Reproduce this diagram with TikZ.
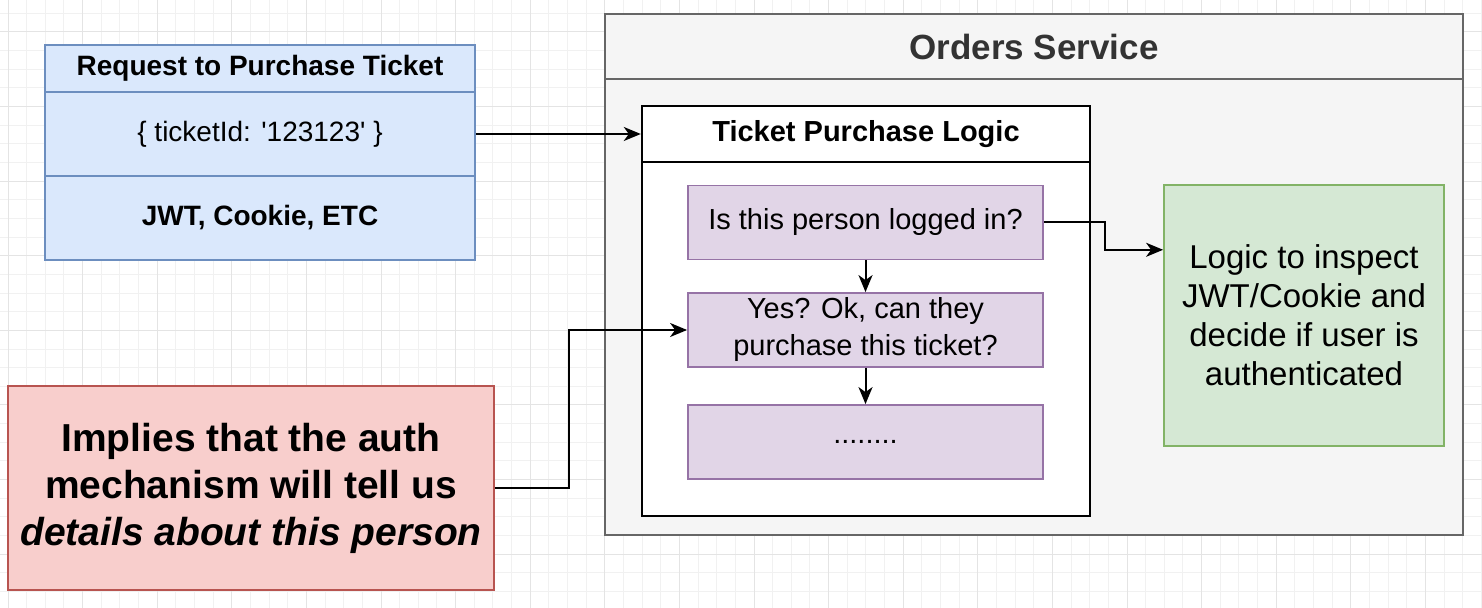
\documentclass[tikz,border=0pt]{standalone}
\usepackage{fontspec}
\setmainfont{Liberation Sans}
\usetikzlibrary{arrows.meta,calc}
\definecolor{reqfill}{HTML}{DAE8FC}
\definecolor{reqline}{HTML}{6C8EBF}
\definecolor{svcfill}{HTML}{F5F5F5}
\definecolor{svcline}{HTML}{666666}
\definecolor{svctext}{HTML}{333333}
\definecolor{stepfill}{HTML}{E1D5E7}
\definecolor{stepline}{HTML}{9673A6}
\definecolor{authfill}{HTML}{D5E8D4}
\definecolor{authline}{HTML}{82B366}
\definecolor{notefill}{HTML}{F8CECC}
\definecolor{noteline}{HTML}{B85450}
\definecolor{gridmajor}{HTML}{E4E4E4}
\definecolor{gridminor}{HTML}{F1F1F1}
\newcommand{\fsize}[2]{\fontsize{#1}{#2}\selectfont}
\tikzset{
    box/.style={rectangle, draw, inner sep=0pt, align=center},
    flow/.style={draw, line width=1pt, -{Stealth[length=8.5pt,width=7pt,inset=2.5pt]}},
}
\begin{document}
\begin{tikzpicture}[x=0.5pt, y=-0.5pt]
    \useasboundingbox (0,0) rectangle (1482,608);
    \fill[white] (0,0) rectangle (1482,608);
    \begin{scope}[line width=0.5pt]
        \foreach \i in {0,...,79} {\draw[gridminor] (8+18.65*\i,0) -- (8+18.65*\i,608);}
        \foreach \i in {0,...,31} {\draw[gridminor] (0,13.35+18.65*\i) -- (1482,13.35+18.65*\i);}
        \foreach \i in {0,...,19} {\draw[gridmajor] (8+74.6*\i,0) -- (8+74.6*\i,608);}
        \foreach \i in {0,...,7} {\draw[gridmajor] (0,32+74.6*\i) -- (1482,32+74.6*\i);}
    \end{scope}
    \begin{scope}[every node/.style={box, draw=reqline, fill=reqfill, line width=0.9pt, minimum width=215pt, font=\fsize{14}{17}}]
        \node (reqhead) [minimum height=23.5pt, font=\bfseries\fsize{14}{17}] at (260,68.5) {Request to Purchase Ticket};
        \node (reqbody) [minimum height=42pt] at (260,134) {\{ ticketId: \textquotesingle 123123\textquotesingle\ \}};
        \node (reqmeta) [minimum height=42pt, font=\bfseries\fsize{14}{17}] at (260,218) {JWT, Cookie, ETC};
    \end{scope}
    \begin{scope}[every node/.style={box, draw=svcline, fill=svcfill, line width=1.2pt, minimum width=429pt}]
        \node (svcbody) [minimum height=228.5pt] at (1034,306.5) {};
        \node (svchead) [minimum height=32.5pt, text=svctext, font=\bfseries\fsize{17.5}{21}] at (1034,46.5) {Orders Service};
    \end{scope}
    \begin{scope}[every node/.style={box, draw=black, fill=white, line width=1.2pt, minimum width=224pt}]
        \node (logicbody) [minimum height=177pt] at (866,339) {};
        \node (logichead) [minimum height=28pt, font=\bfseries\fsize{14.5}{17}] at (866,134) {Ticket Purchase Logic};
    \end{scope}
    \begin{scope}[every node/.style={box, draw=stepline, fill=stepfill, line width=0.9pt, minimum width=177.5pt, minimum height=37pt, font=\fsize{14.5}{18.5}}]
        \node (q1) at (865.5,222.5) {Is this person logged in?};
        \node (q2) at (865.5,330) {Yes? Ok, can they\\purchase this ticket?};
        \node (q3) at (865.5,442) {........};
    \end{scope}
    \node (auth) [box, draw=authline, fill=authfill, line width=0.9pt, minimum width=140pt, minimum height=130.5pt, font=\fsize{16.5}{19.5}] at (1304,315.5) {Logic to inspect\\JWT/Cookie and\\decide if user is\\authenticated};
    \node (note) [box, draw=noteline, fill=notefill, line width=0.9pt, minimum width=243pt, minimum height=102pt, font=\bfseries\fsize{19.5}{23.5}] at (251,488) {Implies that the auth\\mechanism will tell us\\\textit{details about this person}};
    \begin{scope}[every edge/.style={flow}]
        \path (reqbody.east) edge (logichead.west);
        \path (q1) edge (q2);
        \path (q2) edge (q3);
    \end{scope}
    \draw[flow] (q1.east) -- ++(61,0) |- ($(auth.north west)!0.25!(auth.south west)$);
    \draw[flow] (note.east) -- ++(74,0) |- (q2.west);
\end{tikzpicture}
\end{document}
